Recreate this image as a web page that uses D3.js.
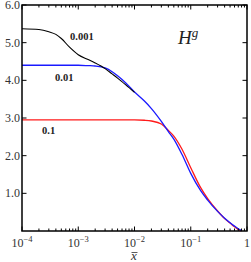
<!DOCTYPE html>
<html>
<head>
<meta charset="utf-8">
<script src="https://cdn.jsdelivr.net/npm/d3@7"></script>
<style>
  body { margin: 0; background: #fff; }
  text { font-family: "Liberation Serif", "DejaVu Serif", serif; }
</style>
</head>
<body>
<svg id="chart" width="251" height="262"></svg>
<script>
// x grid shared by all curves
var xGrid = [0.0001, 0.0002, 0.0003, 0.0004, 0.0005, 0.0007, 0.001, 0.0015, 0.002, 0.003, 0.004, 0.005, 0.007,
             0.01, 0.015, 0.02, 0.03, 0.04, 0.05, 0.07, 0.1, 0.15, 0.2, 0.3, 0.4, 0.5, 0.6, 0.7, 0.8];

// curve for 0.001 (black), stops where it merges with 0.01
var black001 = [5.37, 5.35, 5.29, 5.22, 5.11, 4.88, 4.68, 4.55, 4.46, 4.31, 4.17, 4.06, 3.88, 3.68];
// curve for 0.01 (blue)
var blue01 = [4.40, 4.40, 4.40, 4.40, 4.40, 4.40, 4.40, 4.39, 4.38, 4.33, 4.23, 4.12, 3.93,
              3.69, 3.45, 3.25, 2.91, 2.64, 2.44, 2.03, 1.53, 1.07, 0.82, 0.52, 0.34, 0.22, 0.13, 0.06, 0.01];
// curve for 0.1 (red)
var red1 = [2.95, 2.95, 2.95, 2.95, 2.95, 2.95, 2.95, 2.95, 2.95, 2.95, 2.95, 2.95, 2.95,
            2.95, 2.94, 2.92, 2.84, 2.67, 2.52, 2.17, 1.68, 1.15, 0.86, 0.53, 0.33, 0.21, 0.11, 0.04, 0.0];

var yTicks = [1, 2, 3, 4, 5, 6];
var yTickLabels = ["1.0", "2.0", "3.0", "4.0", "5.0", "6.0"];
var xDecades = [-4, -3, -2, -1];

var svg = d3.select("#chart");
var pLeft = 22, pRight = 247, pTop = 5, pBottom = 231;

var x = d3.scaleLog().domain([1e-4, 1]).range([pLeft, pRight]);
var y = d3.scaleLinear().domain([0, 6]).range([pBottom, pTop]);

var line = d3.line()
    .x(function(d) { return x(d[0]); })
    .y(function(d) { return y(d[1]); })
    .curve(d3.curveMonotoneX);

function pairs(vals) {
    return vals.map(function(v, i) { return [xGrid[i], v]; });
}

var plot = svg.append("g");

plot.append("path").datum(pairs(red1))
    .attr("d", line).attr("fill", "none").attr("stroke", "#ff1a1a").attr("stroke-width", 1.3);
plot.append("path").datum(pairs(blue01))
    .attr("d", line).attr("fill", "none").attr("stroke", "#1a1aff").attr("stroke-width", 1.3);
plot.append("path").datum(pairs(black001))
    .attr("d", line).attr("fill", "none").attr("stroke", "#000").attr("stroke-width", 1.1);

// ticks: log minor ticks along top and bottom
var minorX = [];
for (var e = -4; e < 0; e++) {
    for (var k = 2; k <= 9; k++) minorX.push(k * Math.pow(10, e));
}
var tickG = svg.append("g").attr("stroke", "#000").attr("stroke-width", 1);
minorX.forEach(function(v) {
    tickG.append("line").attr("x1", x(v)).attr("x2", x(v)).attr("y1", pBottom).attr("y2", pBottom - 2.5);
    tickG.append("line").attr("x1", x(v)).attr("x2", x(v)).attr("y1", pTop).attr("y2", pTop + 2.5);
});
xDecades.concat([0]).forEach(function(d) {
    var v = Math.pow(10, d);
    tickG.append("line").attr("x1", x(v)).attr("x2", x(v)).attr("y1", pBottom).attr("y2", pBottom - 4.5);
    tickG.append("line").attr("x1", x(v)).attr("x2", x(v)).attr("y1", pTop).attr("y2", pTop + 4.5);
});
yTicks.forEach(function(v) {
    tickG.append("line").attr("x1", pLeft).attr("x2", pLeft + 4.5).attr("y1", y(v)).attr("y2", y(v));
    tickG.append("line").attr("x1", pRight).attr("x2", pRight - 4.5).attr("y1", y(v)).attr("y2", y(v));
});

// frame
svg.append("rect")
    .attr("x", pLeft).attr("y", pTop)
    .attr("width", pRight - pLeft).attr("height", pBottom - pTop)
    .attr("fill", "none").attr("stroke", "#000").attr("stroke-width", 1.5);

// y tick labels
svg.append("g").selectAll("text")
    .data(yTicks)
    .enter().append("text")
    .attr("x", pLeft - 2)
    .attr("y", function(d) { return y(d) + 4; })
    .attr("text-anchor", "end")
    .attr("font-size", 12)
    .attr("fill", "#333")
    .text(function(d, i) { return yTickLabels[i]; });

// x tick labels
var xl = svg.append("g");
xDecades.forEach(function(d) {
    var t = xl.append("text")
        .attr("x", x(Math.pow(10, d)))
        .attr("y", 247)
        .attr("text-anchor", "middle")
        .attr("font-size", 12)
        .attr("fill", "#333");
    t.append("tspan").text("10");
    t.append("tspan").attr("dy", -5).attr("font-size", 8.5).text("\u2212" + (-d));
});
xl.append("text")
    .attr("x", x(1)).attr("y", 247)
    .attr("text-anchor", "middle")
    .attr("font-size", 12).attr("fill", "#333")
    .text("1");

// x axis title: italic x with a bar drawn over it
svg.append("text")
    .attr("x", 134).attr("y", 260)
    .attr("text-anchor", "middle")
    .attr("font-size", 13)
    .attr("font-style", "italic")
    .attr("fill", "#333")
    .text("x");
svg.append("line")
    .attr("x1", 131.5).attr("x2", 137.5)
    .attr("y1", 252.5).attr("y2", 252.5)
    .attr("stroke", "#333").attr("stroke-width", 0.8);

// curve labels
var curveLabels = [["0.001", 70, 40], ["0.01", 55, 81], ["0.1", 42, 134]];
svg.append("g").selectAll("text")
    .data(curveLabels)
    .enter().append("text")
    .attr("x", function(d) { return d[1]; })
    .attr("y", function(d) { return d[2]; })
    .attr("font-size", 10.5)
    .attr("font-weight", "bold")
    .attr("fill", "#222")
    .text(function(d) { return d[0]; });

// panel title H^g
var title = svg.append("text")
    .attr("x", 178).attr("y", 44)
    .attr("font-size", 19)
    .attr("font-style", "italic")
    .attr("fill", "#222");
title.append("tspan").text("H");
title.append("tspan").attr("dy", -7).attr("font-size", 13).text("g");
</script>
</body>
</html>
